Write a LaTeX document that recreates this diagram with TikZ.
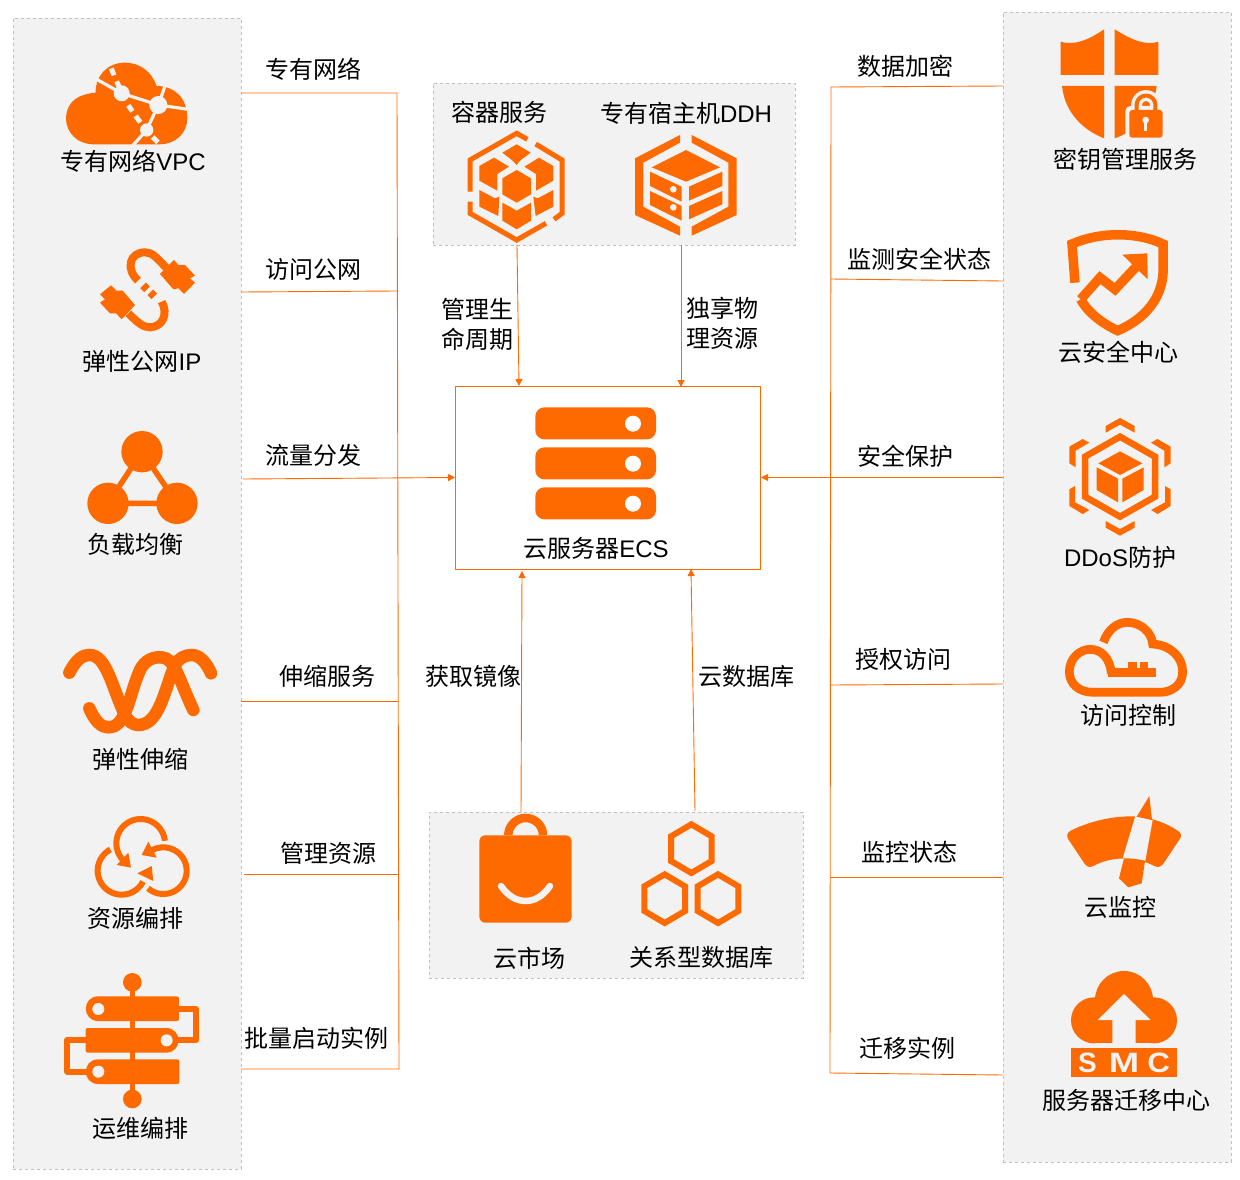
\documentclass[tikz,border=0pt]{standalone}
\usepackage{fontspec}
\usepackage{graphicx}
\usetikzlibrary{arrows.meta}
\setmainfont{Noto Sans CJK SC}
\newfontfamily\latf{Liberation Sans}
\newfontfamily\latb{Liberation Sans Bold}
\newcommand{\La}[1]{{\latf #1}}
\definecolor{orn}{HTML}{FF6A00}
\definecolor{bgc}{HTML}{F2F2F2}
\definecolor{dsh}{HTML}{BFBFBF}
\newcommand{\arcz}[5]{plot[smooth,domain=#4:#5,samples=40] ({#1+#3*cos(\x)},{#2+#3*sin(\x)})}
\newcommand{\hexz}[2]{\draw[ostroke,line width=6pt] (#1,#2-73) -- (#1+61,#2-37) -- (#1+61,#2+37) -- (#1,#2+73) -- (#1-61,#2+37) -- (#1-61,#2-37) -- cycle;}
\tikzset{
  panel/.style={draw=dsh,dashed,line width=0.7pt,fill=bgc,inner sep=0pt,rectangle},
  lab/.style={font=\fontsize{24}{30}\selectfont,inner sep=0pt,text=black},
  conn/.style={draw=orn,line width=0.9pt},
  arr/.style={conn,-{Triangle[length=7pt,width=7pt]}},
  ofill/.style={fill=orn,draw=none},
  bfill/.style={fill=bgc,draw=none},
  ostroke/.style={draw=orn,fill=none,line join=miter},
  bstroke/.style={draw=bgc,fill=none},
  smcl/.style={inner sep=0pt,text=bgc,font=\latb\fontsize{28}{28}\selectfont},
}
\begin{document}
\begin{tikzpicture}[x=1pt,y=-1pt]
\useasboundingbox (0,0) rectangle (1240,1180);
\fill[white] (0,0) rectangle (1240,1180);

% panels
\node[panel,minimum width=228pt,minimum height=1151pt] (pl) at (127,593.5) {};
\node[panel,minimum width=228pt,minimum height=1150pt] (pr) at (1117,587) {};
\node[panel,minimum width=362pt,minimum height=162pt] (pt) at (614,164) {};
\node[panel,minimum width=374pt,minimum height=166pt] (pb) at (616,895) {};
\node[draw=orn,line width=0.9pt,fill=white,inner sep=0pt,minimum width=305pt,minimum height=183pt] (ecs) at (608,478) {};

% junction coordinates
\coordinate (l1a) at (241,93);   \coordinate (l1b) at (397,93);
\coordinate (l2a) at (241,292);  \coordinate (l2b) at (397,291);
\coordinate (l3a) at (243,479);  \coordinate (l3b) at (455,477.5);
\coordinate (l4a) at (241,701);  \coordinate (l4b) at (398,701);
\coordinate (l5a) at (244,874);  \coordinate (l5b) at (398,874);
\coordinate (l6a) at (241,1069); \coordinate (l6b) at (399,1069);
\coordinate (r1a) at (1003,86);  \coordinate (r1b) at (831,87);
\coordinate (r2a) at (1003,281); \coordinate (r2b) at (831,279);
\coordinate (r3a) at (1003,477.5); \coordinate (r3b) at (761,477.5);
\coordinate (r4a) at (1003,684); \coordinate (r4b) at (831,685);
\coordinate (r5a) at (1003,877); \coordinate (r5b) at (830,877);
\coordinate (r6a) at (1003,1075);\coordinate (r6b) at (830,1073);
\coordinate (tA) at (517,245);   \coordinate (tAe) at (519,386);
\coordinate (tB) at (681,245);   \coordinate (tBe) at (681,387);
\coordinate (bA) at (521,812);   \coordinate (bAe) at (522,571);
\coordinate (bB) at (695,811);   \coordinate (bBe) at (691,569);

% connectors
\draw[conn] (l1a) -- (l1b) -- (l6b) -- (l6a);
\draw[conn] (l2a) -- (l2b);
\draw[arr] (l3a) -- (l3b);
\draw[conn] (l4a) -- (l4b);
\draw[conn] (l5a) -- (l5b);
\draw[conn] (r1a) -- (r1b) -- (r6b) -- (r6a);
\draw[conn] (r2a) -- (r2b);
\draw[arr] (r3a) -- (r3b);
\draw[conn] (r4a) -- (r4b);
\draw[conn] (r5a) -- (r5b);
\draw[arr] (tA) -- (tAe);
\draw[arr] (tB) -- (tBe);
\draw[arr] (bA) -- (bAe);
\draw[arr] (bB) -- (bBe);

% ---------- VPC + EIP
\begin{scope}[shift={(50,50)},scale=1/3]
\path[ofill] (48,205) .. controls (50,150) and (90,132) .. (137,128) .. controls (135,80) and (170,38) .. (225,38) .. controls (270,38) and (305,65) .. (320,108) .. controls (370,108) and (412,140) .. (412,205) .. controls (412,250) and (375,283) .. (330,283) -- (130,283) .. controls (85,283) and (48,250) .. (48,205) -- cycle;
\draw[bstroke,line width=3.2pt] (140,88) -- (215,130) -- (325,165) -- (415,178);
\draw[bstroke,line width=3.2pt] (345,108) -- (325,165) -- (290,240) -- (248,287);
\draw[bstroke,line width=5pt] (184,55) -- (192,76);
\draw[bstroke,line width=5pt] (200,94) -- (208,112);
\draw[bstroke,line width=5pt] (235,166) -- (247,184);
\draw[bstroke,line width=5pt] (257,198) -- (271,217);
\draw[bstroke,line width=5pt] (308,261) -- (324,277);
\fill[bgc] (215,130) circle (24) (325,165) circle (27) (290,240) circle (20);
% EIP
\path[ofill] (330,672) -- (372,630) -- (385,645) -- (405,645) -- (435,677) -- (420,685) -- (435,698) -- (402,732) -- (385,715) -- (370,718) -- cycle;
\path[ofill] (150,733) -- (183,706) -- (200,722) -- (218,722) -- (255,765) -- (215,808) -- (198,790) -- (180,790) -- (150,758) -- (165,748) -- cycle;
\draw[ostroke,line width=8pt] (264,692) .. controls (225,655) and (240,607) .. (285,607) .. controls (305,607) and (318,620) .. (350,655);
\draw[ostroke,line width=8pt] (335,755) .. controls (355,790) and (340,830) .. (300,832) .. controls (280,832) and (265,820) .. (235,790);
\draw[ostroke,line width=8pt] (279,706) -- (291,718);
\draw[ostroke,line width=8pt] (301,727) -- (313,739);
\end{scope}

% ---------- SLB + ESS
\begin{scope}[shift={(50,420)},scale=1/3]
\draw[ostroke,line width=5.5pt] (276,95) -- (174,250) -- (381,250) -- cycle;
\fill[orn] (276,95) circle (62) (174,250) circle (62) (381,250) circle (62);
\draw[ostroke,line width=12.5pt,line cap=round] (58,758) .. controls (80,715) and (100,705) .. (118,705) .. controls (170,705) and (185,800) .. (225,885) .. controls (235,905) and (250,915) .. (265,915) .. controls (330,915) and (345,800) .. (375,735) .. controls (385,715) and (405,705) .. (425,705) .. controls (450,705) and (470,730) .. (483,760);
\draw[ostroke,line width=12.5pt,line cap=round] (118,865) .. controls (135,905) and (155,922) .. (175,922) .. controls (230,922) and (235,830) .. (270,750) .. controls (285,720) and (310,710) .. (335,712) .. controls (375,715) and (385,775) .. (430,870);
\end{scope}

% ---------- ROS + OOS
\begin{scope}[shift={(50,800)},scale=1/3]
\draw[ostroke,line width=6pt] \arcz{272}{130}{73}{-6}{-229};
\path[ofill] (243,203) -- (200,195) -- (235,158) -- cycle;
\draw[ostroke,line width=6pt] \arcz{340}{212}{70}{131}{-122};
\path[ofill] (275,165) -- (295,125) -- (320,173) -- cycle;
\draw[ostroke,line width=6pt] \arcz{215}{212}{72}{242}{27};
\path[ofill] (305,198) -- (262,220) -- (310,243) -- cycle;
% OOS
\draw[ostroke,line width=5.6pt] (247,547) -- (247,897);
\fill[orn] (247,547) circle (28) (247,897) circle (28);
\draw[ostroke,line width=6pt,line join=round] (380,627) -- (438,627) -- (438,721) -- (380,721);
\draw[ostroke,line width=6pt,line join=round] (115,720) -- (52,720) -- (52,815) -- (115,815);
\path[ofill] (145,589) -- (380,589) .. controls (385,589) and (387,591) .. (387,596) -- (387,656) .. controls (387,661) and (385,663) .. (380,663) -- (145,663) .. controls (95,663) and (95,589) .. (145,589) -- cycle;
\path[ofill] (348,684) -- (114,684) .. controls (109,684) and (107,686) .. (107,691) -- (107,751) .. controls (107,756) and (109,758) .. (114,758) -- (348,758) .. controls (398,758) and (398,684) .. (348,684) -- cycle;
\path[ofill] (145,778) -- (381,778) .. controls (386,778) and (388,780) .. (388,785) -- (388,845) .. controls (388,850) and (386,852) .. (381,852) -- (145,852) .. controls (95,852) and (95,778) .. (145,778) -- cycle;
\fill[bgc] (145,627) circle (18) (350,721) circle (18) (145,815) circle (18);
\end{scope}

% ---------- Containers + DDH
\begin{scope}[shift={(440,90)},scale=1/3]
\draw[ostroke,line width=5pt] (90,305) -- (90,210) -- (230,130) -- (262,148);
\draw[ostroke,line width=5pt] (287,162) -- (366,210) -- (366,370) -- (342,388);
\draw[ostroke,line width=5pt] (318,400) -- (230,450) -- (90,370) -- (90,335);
\path[ofill] (230,240) -- (273,265) -- (273,313) -- (230,338) -- (187,313) -- (187,265) -- cycle;
\path[ofill] (187,188) -- (230,163) -- (272,188) -- (240,212) -- (230,225) -- (218,212) -- cycle;
\path[ofill] (118,228) -- (162,203) -- (207,230) -- (172,252) -- (172,302) -- (118,272) -- cycle;
\path[ofill] (340,228) -- (297,203) -- (253,230) -- (288,252) -- (288,302) -- (340,272) -- cycle;
\path[ofill] (118,300) -- (165,325) -- (178,320) -- (175,378) -- (118,350) -- cycle;
\path[ofill] (340,300) -- (293,325) -- (280,320) -- (287,378) -- (340,350) -- cycle;
\path[ofill] (187,338) -- (230,362) -- (273,338) -- (273,392) -- (230,418) -- (187,392) -- cycle;
% DDH
\path[ofill] (720,135) -- (585,205) -- (585,375) -- (720,437) -- (720,410) -- (610,350) -- (610,218) -- (720,158) -- cycle;
\path[ofill] (755,135) -- (890,205) -- (890,375) -- (755,437) -- (755,410) -- (865,350) -- (865,218) -- (755,158) -- cycle;
\path[ofill] (738,180) -- (840,232) -- (738,275) -- (635,232) -- cycle;
\path[ofill] (630,245) -- (725,290) -- (725,335) -- (630,288) -- cycle;
\path[ofill] (630,303) -- (725,348) -- (725,392) -- (630,345) -- cycle;
\path[ofill] (747,290) -- (847,245) -- (847,288) -- (747,332) -- cycle;
\path[ofill] (747,348) -- (847,303) -- (847,343) -- (747,388) -- cycle;
\fill[bgc] (700,298) circle (10) (700,352) circle (10);
\end{scope}

% ---------- ECS
\begin{scope}[shift={(450,380)},scale=1/3]
\foreach \yy in {82,202,322}{
  \fill[orn,rounded corners=9pt] (256,\yy) rectangle (618,\yy+96);
  \fill[white] (549,\yy+49) circle (24);
}
\end{scope}

% ---------- Market + RDS
\begin{scope}[shift={(440,810)},scale=1/3]
\draw[ostroke,line width=8.5pt] \arcz{257}{76}{52}{180}{360};
\fill[orn,rounded corners=6pt] (118,76) rectangle (395,338);
\draw[bstroke,line width=6.5pt,line cap=round] (183,228) .. controls (205,260) and (232,273) .. (257,273) .. controls (282,273) and (308,260) .. (330,228);
\hexz{754}{116}
\hexz{674}{266}
\hexz{834}{266}
\end{scope}

% ---------- KMS + SAS
\begin{scope}[shift={(1040,20)},scale=1/3]
\path[ofill] (192,28) -- (192,165) -- (62,165) -- (62,65) .. controls (110,80) and (160,50) .. (192,28) -- cycle;
\path[ofill] (224,28) .. controls (260,50) and (310,80) .. (355,65) -- (355,165) -- (224,165) -- cycle;
\path[ofill] (66,198) -- (192,198) -- (192,355) .. controls (130,330) and (75,280) .. (66,198) -- cycle;
\path[ofill] (224,198) -- (350,198) .. controls (340,280) and (285,335) .. (224,355) -- cycle;
\fill[bgc,rounded corners=5pt] (256,258) rectangle (380,365);
\draw[bstroke,line width=11pt] (290,275) -- (290,255) \arcz{318}{255}{28}{180}{360} -- (346,275);
\draw[ostroke,line width=4pt] (290,275) -- (290,255) \arcz{318}{255}{28}{180}{360} -- (346,275);
\fill[orn,rounded corners=3pt] (268,270) rectangle (368,353);
\fill[bgc] (317,300) circle (10);
\fill[bgc] (312,300) rectangle (322,332);
% SAS
\draw[ostroke,line width=9.5pt] (105,788) -- (96,672) .. controls (180,635) and (290,635) .. (369,672) -- (369,760) .. controls (365,830) and (320,895) .. (233,932) .. controls (190,912) and (145,880) .. (122,838);
\draw[ostroke,line width=9.5pt] (122,838) -- (180,773) -- (225,808) -- (300,728);
\path[ofill] (247,704) -- (322,700) -- (323,778) -- cycle;
\end{scope}

% ---------- DDoS + RAM
\begin{scope}[shift={(1040,410)},scale=1/3]
\path[ofill] (197,48) -- (240,24) -- (284,48) -- (284,68) -- (240,44) -- (197,68) -- cycle;
\path[ofill] (197,333) -- (240,357) -- (284,333) -- (284,353) -- (240,377) -- (197,353) -- cycle;
\path[ofill] (88,110) -- (128,87) -- (148,98) -- (107,122) -- (107,172) -- (88,160) -- cycle;
\path[ofill] (392,110) -- (352,87) -- (333,98) -- (373,122) -- (373,172) -- (392,160) -- cycle;
\path[ofill] (88,238) -- (105,228) -- (105,277) -- (148,300) -- (128,312) -- (88,288) -- cycle;
\path[ofill] (392,238) -- (375,228) -- (375,277) -- (333,300) -- (353,312) -- (392,288) -- cycle;
\draw[ostroke,line width=6.5pt] (240,80) -- (345,140) -- (345,260) -- (240,320) -- (135,260) -- (135,140) -- cycle;
\path[ofill] (240,124) -- (307,160) -- (240,195) -- (175,160) -- cycle;
\path[ofill] (170,172) -- (234,206) -- (234,277) -- (170,240) -- cycle;
\path[ofill] (247,206) -- (311,172) -- (311,240) -- (247,277) -- cycle;
% RAM
\draw[ostroke,line width=8.7pt] (190,697) .. controls (205,655) and (235,637) .. (262,637) .. controls (300,637) and (335,665) .. (338,702) .. controls (390,705) and (428,740) .. (428,785) .. controls (428,825) and (395,847) .. (360,847) -- (160,847) .. controls (115,847) and (88,820) .. (88,785) .. controls (88,745) and (120,718) .. (150,718) .. controls (185,718) and (210,745) .. (214,790);
\fill[orn] (205,773) rectangle (348,800);
\fill[orn] (265,755) rectangle (290,775);
\fill[orn] (300,755) rectangle (325,775);
\end{scope}

% ---------- CMS + SMC
\begin{scope}[shift={(1040,790)},scale=1/3]
\path[ofill] (92,122) .. controls (160,88) and (240,75) .. (300,80) .. controls (340,85) and (380,100) .. (413,122) .. controls (423,128) and (426,136) .. (420,146) -- (372,218) .. controls (365,230) and (355,234) .. (343,228) .. controls (285,198) and (215,198) .. (160,228) .. controls (148,234) and (140,230) .. (133,220) -- (85,148) .. controls (78,136) and (82,128) .. (92,122) -- cycle;
\path[bfill] (286,78) -- (338,90) -- (316,212) -- (248,205) -- cycle;
\path[ofill] (328,18) -- (336,90) -- (290,80) -- cycle;
\path[ofill] (252,205) .. controls (275,205) and (295,207) .. (315,213) -- (305,280) -- (265,292) -- (237,265) -- cycle;
% SMC
\fill[orn] (252,630) circle (87) (162,691) circle (69) (342,691) circle (69);
\fill[orn] (162,691) rectangle (342,760);
\path[bfill] (252,612) -- (332,690) -- (287,690) -- (287,760) -- (217,760) -- (217,690) -- (173,690) -- cycle;
\fill[orn] (93,775) rectangle (411,862);
\node[smcl] (smcS) at (142,820) {\scalebox{1.0}[1]{S}};
\node[smcl] (smcM) at (252,820) {\scalebox{1.3}[1]{M}};
\node[smcl] (smcC) at (356,820) {\scalebox{1.12}[1]{C}};
\end{scope}

% ---------- labels
\node[lab] (c1) at (313,69.5) {专有网络};
\node[lab] (c2) at (313,269) {访问公网};
\node[lab] (c3) at (313,455) {流量分发};
\node[lab] (c4) at (327,676) {伸缩服务};
\node[lab] (c5) at (328,853) {管理资源};
\node[lab] (c6) at (316,1038) {批量启动实例};
\node[lab] (n1) at (133,161) {专有网络\La{VPC}};
\node[lab] (n2) at (142,361) {弹性公网\La{IP}};
\node[lab] (n3) at (135,544) {负载均衡};
\node[lab] (n4) at (140,759) {弹性伸缩};
\node[lab] (n5) at (135,918) {资源编排};
\node[lab] (n6) at (140,1128) {运维编排};
\node[lab] (t1) at (499,112) {容器服务};
\node[lab] (t2) at (686,113) {专有宿主机\La{DDH}};
\node[lab,align=left] (t3) at (477,324) {管理生\\命周期};
\node[lab,align=left] (t4) at (722,323) {独享物\\理资源};
\node[lab] (e1) at (596,548) {云服务器\La{ECS}};
\node[lab] (b1) at (473,676) {获取镜像};
\node[lab] (b2) at (746,676) {云数据库};
\node[lab] (b3) at (529,958) {云市场};
\node[lab] (b4) at (701,957) {关系型数据库};
\node[lab] (d1) at (905,66) {数据加密};
\node[lab] (d2) at (919,259) {监测安全状态};
\node[lab] (d3) at (905,456) {安全保护};
\node[lab] (d4) at (903,659) {授权访问};
\node[lab] (d5) at (909,852) {监控状态};
\node[lab] (d6) at (907,1048) {迁移实例};
\node[lab] (s1) at (1125,159) {密钥管理服务};
\node[lab] (s2) at (1118,352) {云安全中心};
\node[lab] (s3) at (1120,557) {\La{DDoS}防护};
\node[lab] (s4) at (1128,715) {访问控制};
\node[lab] (s5) at (1120,907) {云监控};
\node[lab] (s6) at (1126,1100) {服务器迁移中心};
\end{tikzpicture}
\end{document}
